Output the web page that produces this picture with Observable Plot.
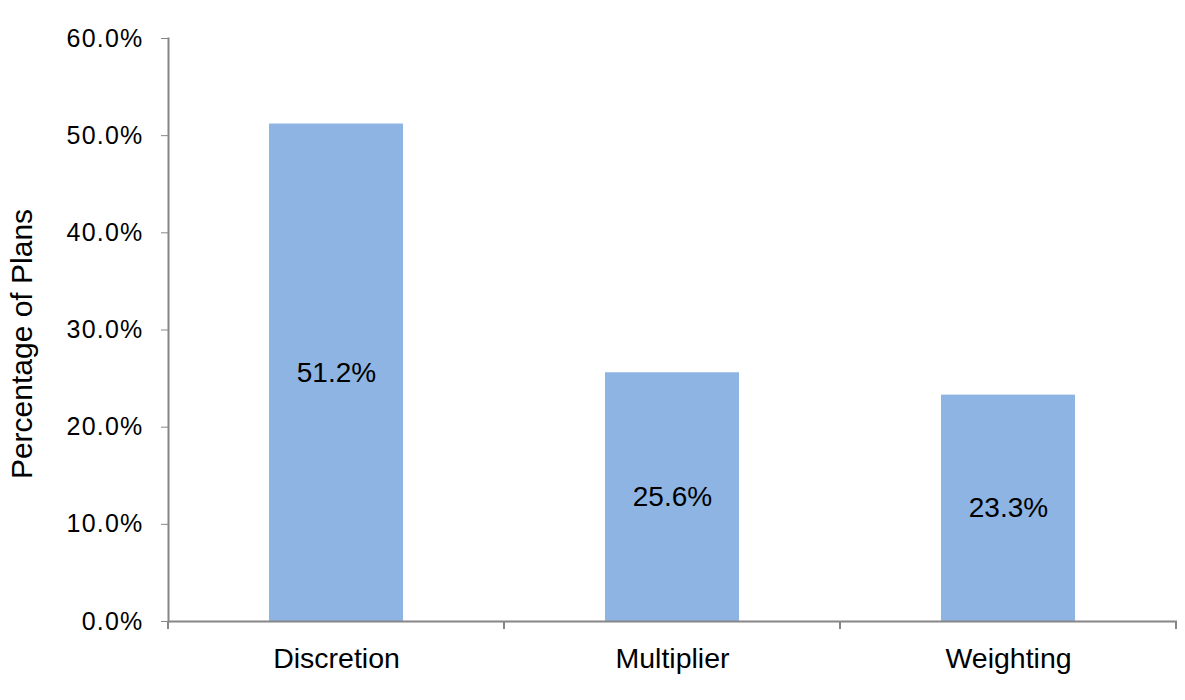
<!DOCTYPE html>
<html>
<head>
<meta charset="utf-8">
<script src="https://cdn.jsdelivr.net/npm/d3@7"></script>
<script src="https://cdn.jsdelivr.net/npm/@observablehq/plot@0.6"></script>
<style>
  body { margin: 0; background: #fff; }
  #chart svg { display: block; }
</style>
</head>
<body>
<div id="chart"></div>
<script>
const categories = ["Discretion", "Multiplier", "Weighting"];
const values = [51.2, 25.6, 23.3];
const yTicks = [0, 10, 20, 30, 40, 50, 60];
const yTitle = "Percentage of Plans";

const data = categories.map((c, i) => ({category: c, value: values[i]}));
const axisGray = "#868686";
const barColor = "#8EB4E3";
const pct = d => d.toFixed(1) + "%";

const plot = Plot.plot({
  width: 1185,
  height: 700,
  marginLeft: 168,
  marginRight: 8,
  marginTop: 38,
  marginBottom: 79,
  style: {fontFamily: "'Liberation Sans', Arial, sans-serif", color: "black", background: "white"},
  x: {domain: categories, paddingInner: 0.6, paddingOuter: 0.3},
  y: {domain: [0, 60]},
  marks: [
    Plot.barY(data, {x: "category", y: "value", fill: barColor}),
    Plot.text(data, {x: "category", y: d => d.value / 2, text: d => pct(d.value), fontSize: 28, fill: "black"}),
    Plot.axisY({ticks: yTicks, tickFormat: pct, tickSize: 7, tickPadding: 18, stroke: axisGray, fill: "black", fontSize: 25, label: null}),
    Plot.axisX({tickSize: 0, tickPadding: 26, fontSize: 28.5, fill: "black", label: null}),
    Plot.frame({anchor: "left", stroke: axisGray, strokeWidth: 2}),
    Plot.ruleY([0], {stroke: axisGray, strokeWidth: 2}),
    Plot.text([yTitle], {frameAnchor: "left", textAnchor: "middle", rotate: -90, dx: -146, dy: 14, fontSize: 30, fill: "black"})
  ]
});

// slightly wider spacing of the y tick labels, as in the reference
d3.select(plot).selectAll("g[aria-label='y-axis tick label'] text").attr("letter-spacing", "1.2px");

// boundary ticks between categories on the x axis, derived from the band scale
const sx = plot.scale("x");
const sy = plot.scale("y");
const step = sx.step;
const x0 = sx.range[0];
const boundaries = d3.range(categories.length + 1).map(i => x0 + i * step);
const yBase = sy.range[0];
d3.select(plot).append("g")
  .attr("stroke", axisGray)
  .attr("stroke-width", 2)
  .selectAll("line")
  .data(boundaries)
  .join("line")
  .attr("x1", d => d).attr("x2", d => d)
  .attr("y1", yBase).attr("y2", yBase + 8);

document.getElementById("chart").appendChild(plot);
</script>
</body>
</html>
